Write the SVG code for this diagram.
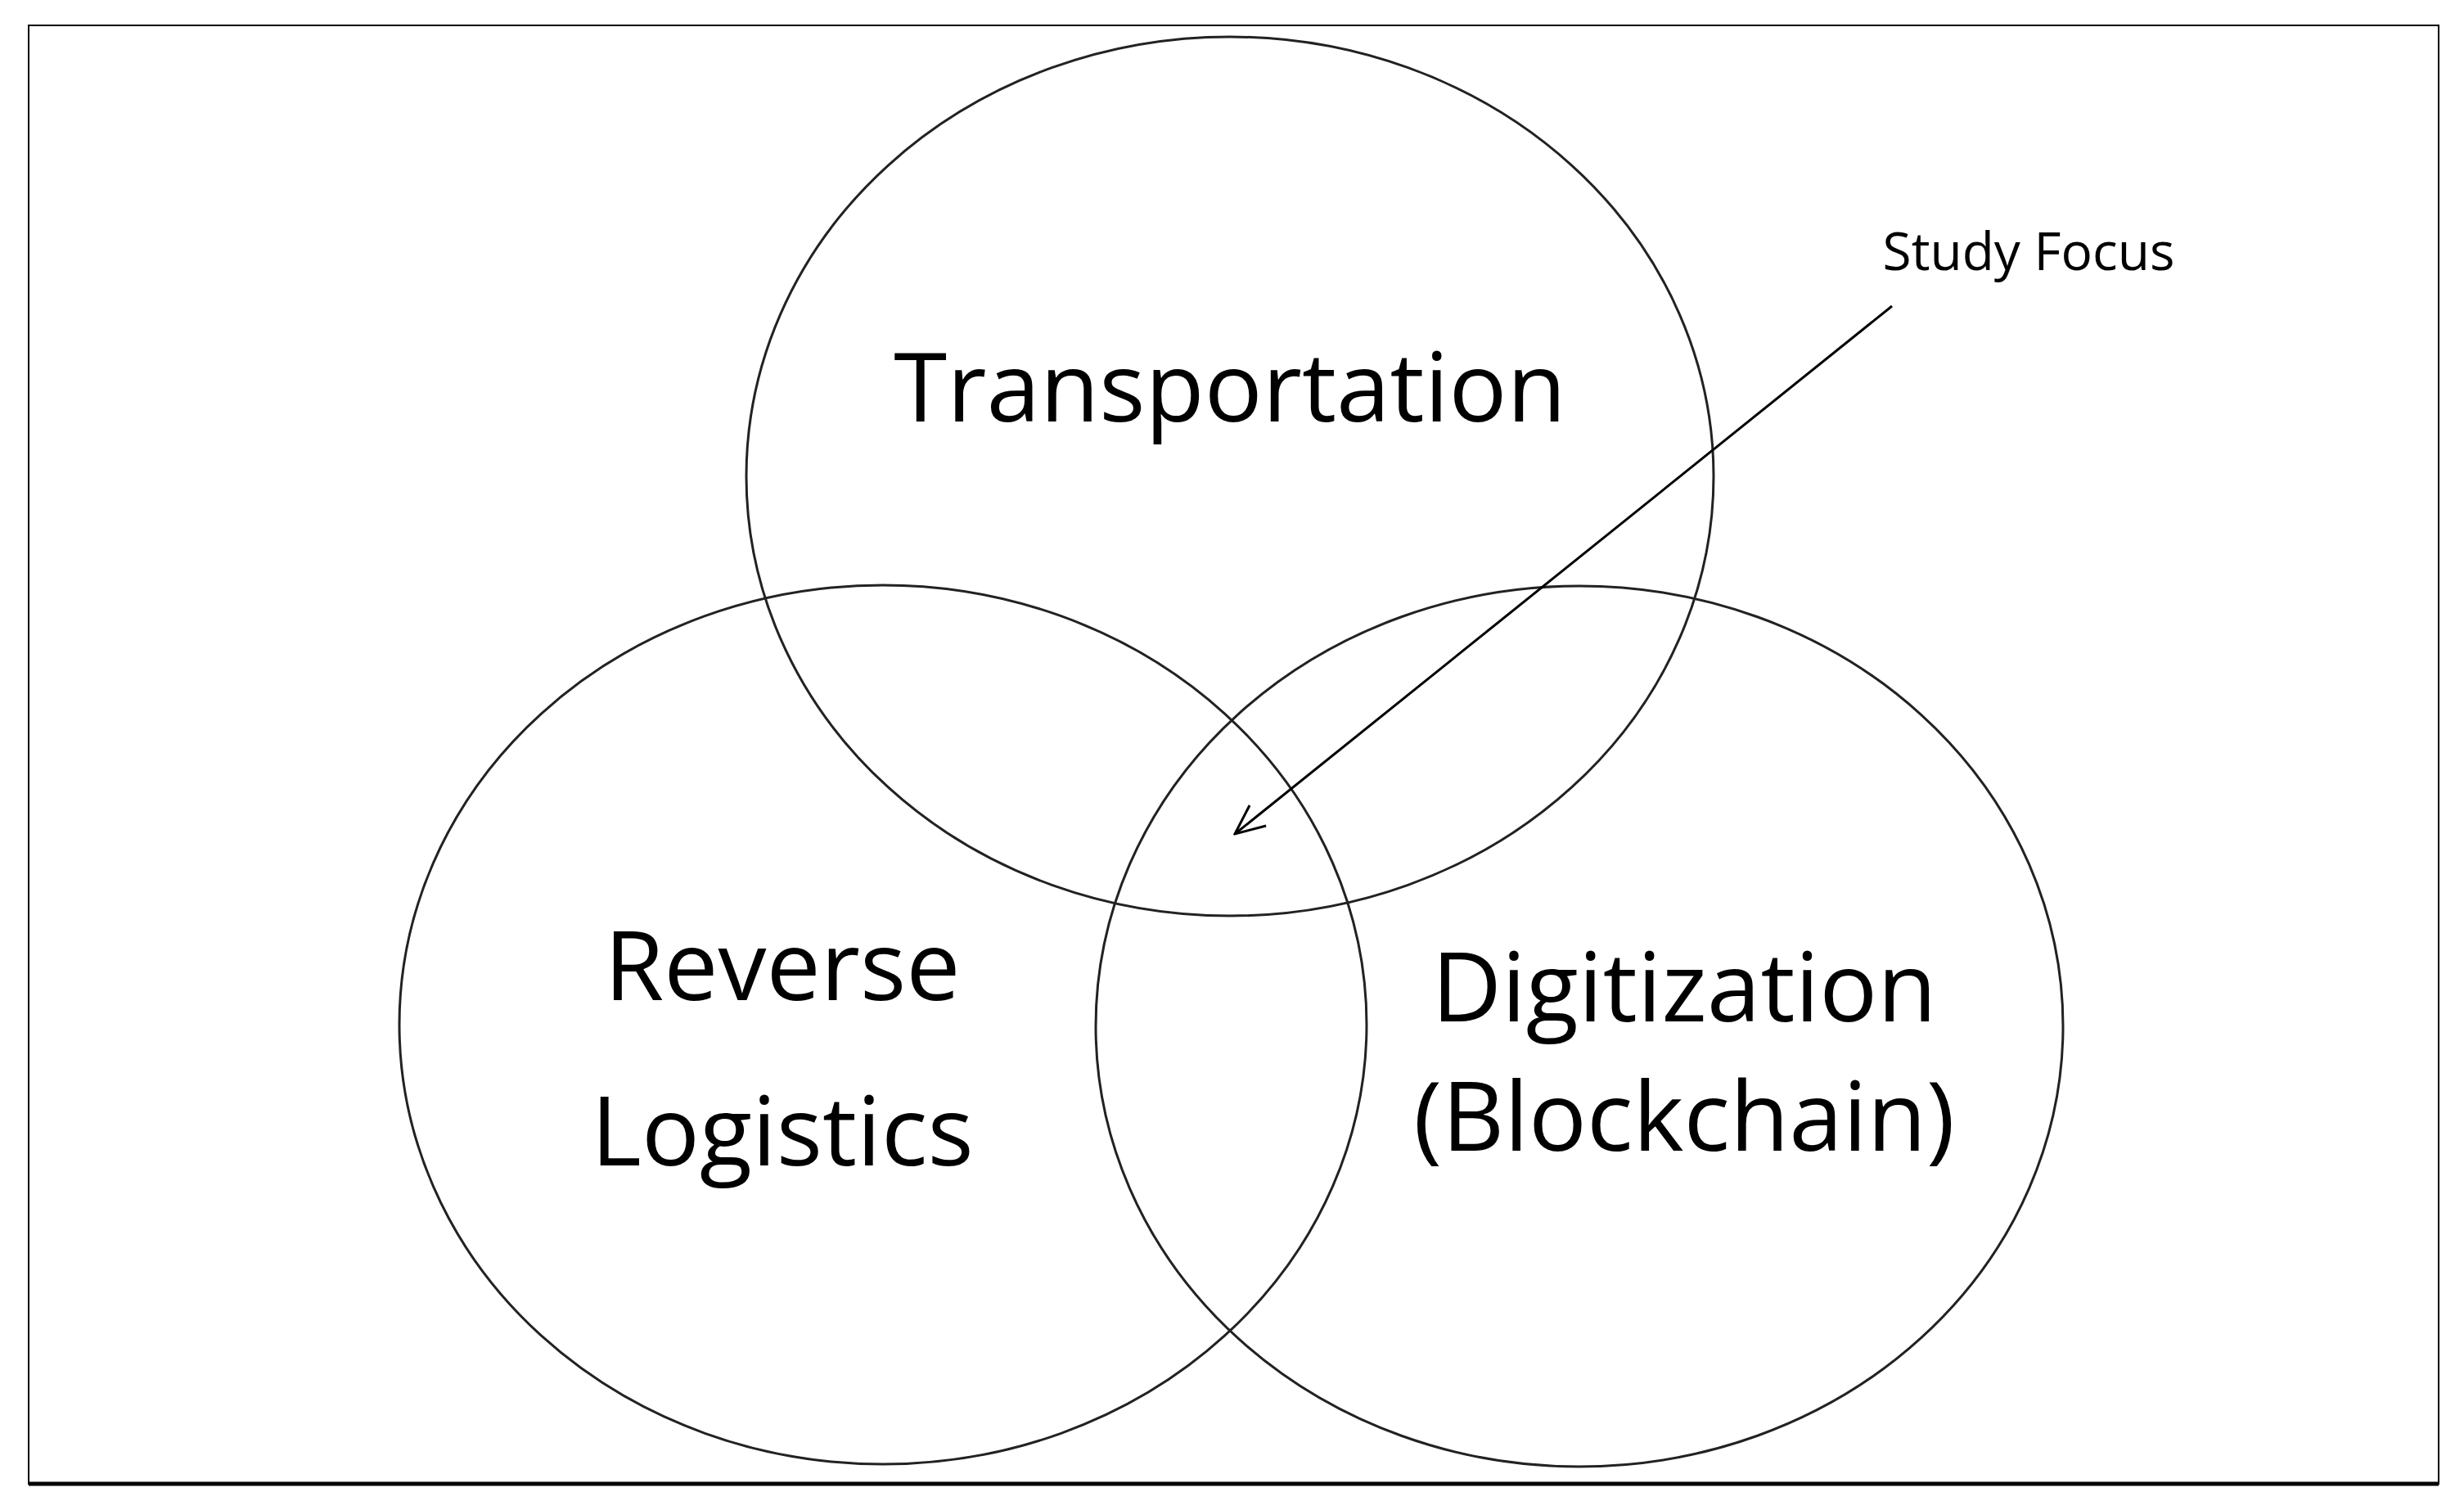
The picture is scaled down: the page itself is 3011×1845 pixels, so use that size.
<svg xmlns="http://www.w3.org/2000/svg" width="3011" height="1845" viewBox="0 0 3011 1845">
<style>
.c{fill:none;stroke:#222;stroke-width:3}
.t{font-family:"Open Sans","Liberation Sans",sans-serif;font-size:118px;fill:#000;text-anchor:middle}
.s{font-family:"Open Sans","Liberation Sans",sans-serif;font-size:64px;fill:#000;text-anchor:middle}
</style>
<defs><marker id="b" markerWidth="40" markerHeight="40" refX="38" refY="20" orient="auto" markerUnits="userSpaceOnUse"><path d="M2,4 L38,20 L2,36" fill="none" stroke="#000" stroke-width="3"/></marker></defs>
<rect width="3011" height="1845" fill="#fff"/>
<rect x="35" y="31" width="2945" height="1782" fill="none" stroke="#000" stroke-width="2"/>
<line x1="35" y1="1813" x2="2980" y2="1813" stroke="#000" stroke-width="5"/>
<g id="transportation"><ellipse class="c" cx="1503" cy="582" rx="591" ry="537"/><text class="t" x="1503" y="515">Transportation</text></g>
<g id="reverse-logistics"><ellipse class="c" cx="1079" cy="1252" rx="591" ry="537"/><text class="t" x="956" y="1222">Reverse</text><text class="t" x="956" y="1424">Logistics</text></g>
<g id="digitization"><ellipse class="c" cx="1930" cy="1254" rx="591" ry="538"/><text class="t" x="2058" y="1248">Digitization</text><text class="t" x="2058" y="1406">(Blockchain)</text></g>
<g id="study-focus"><text class="s" x="2479" y="330">Study Focus</text></g>
<g id="connectors"><line x1="2312" y1="374" x2="1509" y2="1019" stroke="#000" stroke-width="3" marker-end="url(#b)"/></g>
</svg>
